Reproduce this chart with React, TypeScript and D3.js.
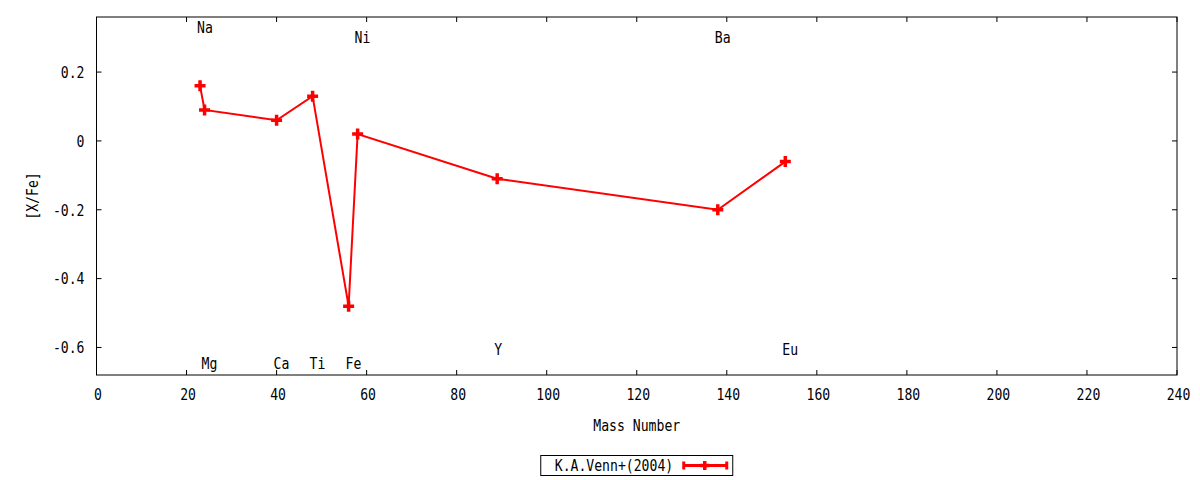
import * as d3 from "d3";

// [X/Fe] abundances vs mass number, K.A.Venn+(2004)
const elements = ["Na", "Mg", "Ca", "Ti", "Fe", "Ni", "Y", "Ba", "Eu"];
const massNumbers = [23, 24, 40, 48, 56, 58, 89, 138, 153];
const xfeValues = [0.16, 0.09, 0.06, 0.13, -0.48, 0.02, -0.11, -0.2, -0.06];
// vertical position of each element's name label (data units)
const labelYs = [0.33, -0.645, -0.645, -0.645, -0.645, 0.3, -0.605, 0.3, -0.605];

const xTicks = [0, 20, 40, 60, 80, 100, 120, 140, 160, 180, 200, 220, 240];
const yTicks = [-0.6, -0.4, -0.2, 0, 0.2];
const seriesName = "K.A.Venn+(2004)";

const W = 1200;
const H = 480;
const margin = { top: 17, right: 23, bottom: 105, left: 96.5 };
const RED = "#ff0000";
const FONT = "'DejaVu Sans Mono', monospace";

// gnuplot-like narrow mono text
function Label({
  x,
  y,
  text,
  anchor = "start",
  rotate = 0,
}: {
  x: number;
  y: number;
  text: string;
  anchor?: string;
  rotate?: number;
}) {
  return (
    <text
      transform={`translate(${x},${y}) rotate(${rotate}) scale(0.82,1)`}
      textAnchor={anchor}
      dy="0.36em"
      fontFamily={FONT}
      fontSize={16}
      fill="#000"
    >
      {text}
    </text>
  );
}

function Plus({ x, y, r = 5.5 }: { x: number; y: number; r?: number }) {
  return (
    <path
      d={`M${x - r},${y}H${x + r}M${x},${y - r}V${y + r}`}
      stroke={RED}
      strokeWidth={3.5}
    />
  );
}

export default function App() {
  const x = d3
    .scaleLinear()
    .domain([0, 240])
    .range([margin.left, W - margin.right]);
  const y = d3
    .scaleLinear()
    .domain([-0.68, 0.36])
    .range([H - margin.bottom, margin.top]);

  const [x0, x1] = x.range();
  const [yb, yt] = y.range();

  const points = massNumbers.map((m, i) => ({ m, v: xfeValues[i] }));
  const line = d3
    .line<{ m: number; v: number }>()
    .x((d) => x(d.m))
    .y((d) => y(d.v));

  const fmtY = (v: number) => (v === 0 ? "0" : v.toFixed(1));
  const tickLen = 5;

  const legendCx = (x0 + x1) / 2;
  const legend = { x: legendCx - 96, y: 455.5, w: 192, h: 20 };

  return (
    <svg
      width={W}
      height={H}
      style={{ position: "absolute", left: 0, top: 0, background: "#fff" }}
    >
      <rect x={0} y={0} width={W} height={H} fill="#fff" />
      {/* ticks */}
      <g stroke="#000" strokeWidth={1}>
        {xTicks.map((t) => (
          <g key={`xt${t}`}>
            <line x1={x(t)} x2={x(t)} y1={yb} y2={yb - tickLen} />
            <line x1={x(t)} x2={x(t)} y1={yt} y2={yt + tickLen} />
          </g>
        ))}
        {yTicks.map((t) => (
          <g key={`yt${t}`}>
            <line x1={x0} x2={x0 + tickLen} y1={y(t)} y2={y(t)} />
            <line x1={x1} x2={x1 - tickLen} y1={y(t)} y2={y(t)} />
          </g>
        ))}
      </g>
      {/* tick labels */}
      {xTicks.map((t) => (
        <Label key={`xl${t}`} x={x(t) + 1.5} y={yb + 19} text={String(t)} anchor="middle" />
      ))}
      {yTicks.map((t) => (
        <Label key={`yl${t}`} x={x0 - 12} y={y(t)} text={fmtY(t)} anchor="end" />
      ))}
      {/* axis titles */}
      <Label x={(x0 + x1) / 2} y={yb + 50} text="Mass Number" anchor="middle" />
      <Label x={32} y={(yt + yb) / 2} text="[X/Fe]" anchor="middle" rotate={-90} />
      {/* element labels */}
      {elements.map((e, i) => (
        <Label key={e} x={x(massNumbers[i]) - 3} y={y(labelYs[i])} text={e} />
      ))}
      {/* series */}
      <path d={line(points) ?? ""} fill="none" stroke={RED} strokeWidth={2} />
      {points.map((p, i) => (
        <Plus key={i} x={x(p.m)} y={y(p.v)} />
      ))}
      {/* border */}
      <rect
        x={x0}
        y={yt}
        width={x1 - x0}
        height={yb - yt}
        fill="none"
        stroke="#000"
        strokeWidth={1}
      />
      {/* legend */}
      <g>
        <rect
          x={legend.x}
          y={legend.y}
          width={legend.w}
          height={legend.h}
          fill="#fff"
          stroke="#000"
          strokeWidth={1}
        />
        <Label x={legend.x + 14} y={legend.y + legend.h / 2} text={seriesName} />
        <g stroke={RED} strokeWidth={3}>
          <line x1={legend.x + 143} x2={legend.x + 186} y1={legend.y + 10} y2={legend.y + 10} />
          <line x1={legend.x + 143} x2={legend.x + 143} y1={legend.y + 6} y2={legend.y + 14} />
          <line x1={legend.x + 186} x2={legend.x + 186} y1={legend.y + 6} y2={legend.y + 14} />
        </g>
        <Plus x={legend.x + 164} y={legend.y + 10} r={4.5} />
      </g>
    </svg>
  );
}
